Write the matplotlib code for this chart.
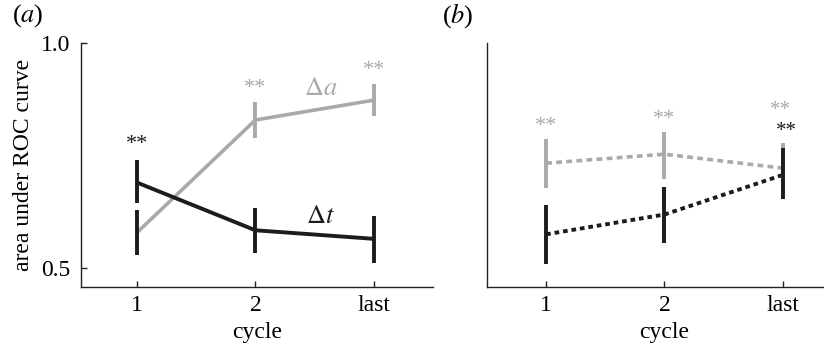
import matplotlib.pyplot as plt

plt.rcParams['font.family'] = ['Liberation Serif', 'DejaVu Serif']
plt.rcParams['mathtext.fontset'] = 'stix'

cycles = [1, 2, 3]
cycle_labels = ['1', '2', 'last']

# panel a, solid lines
dt_a = [0.690, 0.584, 0.565]
dt_a_lo = [0.644, 0.533, 0.512]
dt_a_hi = [0.740, 0.633, 0.616]
da_a = [0.579, 0.829, 0.873]
da_a_lo = [0.529, 0.788, 0.838]
da_a_hi = [0.629, 0.870, 0.908]

# panel b, dashed lines
dt_b = [0.575, 0.619, 0.707]
dt_b_lo = [0.509, 0.556, 0.653]
dt_b_hi = [0.640, 0.681, 0.767]
da_b = [0.733, 0.753, 0.722]
da_b_lo = [0.677, 0.699, 0.667]
da_b_hi = [0.786, 0.803, 0.777]

gray = '#a7a9ab'
black = '#1c1c1c'

fig = plt.figure(figsize=(8.24, 3.47), dpi=100)
ax1 = fig.add_axes([0.0983, 0.1729, 0.4272, 0.7032])
ax2 = fig.add_axes([0.591, 0.1729, 0.4308, 0.7032])

for ax in (ax1, ax2):
    ax.set_xlim(0.527, 3.5)
    ax.set_ylim(0.458, 1.0)
    ax.spines['top'].set_visible(False)
    ax.spines['right'].set_visible(False)
    for s in ('left', 'bottom'):
        ax.spines[s].set_linewidth(1.0)
        ax.spines[s].set_color('#222222')
    ax.set_xticks(cycles)
    ax.set_xticklabels(cycle_labels)
    ax.tick_params(direction='in', length=4, width=1, labelsize=17, color='#222222')
    ax.tick_params(axis='x', pad=6)
    ax.tick_params(axis='y', pad=8)
    ax.set_xlabel('cycle', fontsize=17, labelpad=4)
    ax.set_facecolor('none')

ax2.set_xlim(0.5, 3.5)

# panel a
ax1.set_yticks([0.5, 1.0])
ax1.set_yticklabels(['0.5', '1.0'])
ax1.set_ylabel('area under ROC curve', fontsize=17, labelpad=5)
ax1.plot(cycles, da_a, color=gray, lw=2.6, solid_capstyle='butt', zorder=2)
ax1.plot(cycles, dt_a, color=black, lw=2.8, solid_capstyle='butt', zorder=2)
ax1.vlines(cycles, da_a_lo, da_a_hi, colors=[black, gray, gray], lw=2.8, zorder=3)
ax1.vlines(cycles, dt_a_lo, dt_a_hi, colors=black, lw=2.8, zorder=3)
ax1.text(1, 0.774, '**', color=black, fontsize=16, ha='center', va='center')
ax1.text(2, 0.900, '**', color=gray, fontsize=16, ha='center', va='center')
ax1.text(3, 0.939, '**', color=gray, fontsize=16, ha='center', va='center')
ax1.text(2.55, 0.898, r'$\Delta a$', color=gray, fontsize=19, ha='center', va='center')
ax1.text(2.55, 0.613, r'$\Delta t$', color=black, fontsize=19, ha='center', va='center')

# panel b
ax2.set_yticks([])
ax2.plot(cycles, da_b, color=gray, lw=2.6, ls=(0, (1.6, 1.2)), zorder=2)
ax2.plot(cycles, dt_b, color=black, lw=2.8, ls=(0, (1.2, 1.0)), zorder=2)
ax2.vlines(cycles, da_b_lo, da_b_hi, colors=gray, lw=2.8, zorder=3)
ax2.vlines(cycles, dt_b_lo, dt_b_hi, colors=black, lw=2.8, zorder=4)
ax2.text(1, 0.814, '**', color=gray, fontsize=16, ha='center', va='center')
ax2.text(2, 0.830, '**', color=gray, fontsize=16, ha='center', va='center')
ax2.text(2.98, 0.850, '**', color=gray, fontsize=15, ha='center', va='center')
ax2.text(3.03, 0.803, '**', color=black, fontsize=15, ha='center', va='center')

fig.text(28 / 824, 1 - 16 / 347, r'($a$)', fontsize=19, ha='center', va='center')
fig.text(458 / 824, 1 - 16 / 347, r'($b$)', fontsize=19, ha='center', va='center')

fig.savefig('out.png', dpi=100)
